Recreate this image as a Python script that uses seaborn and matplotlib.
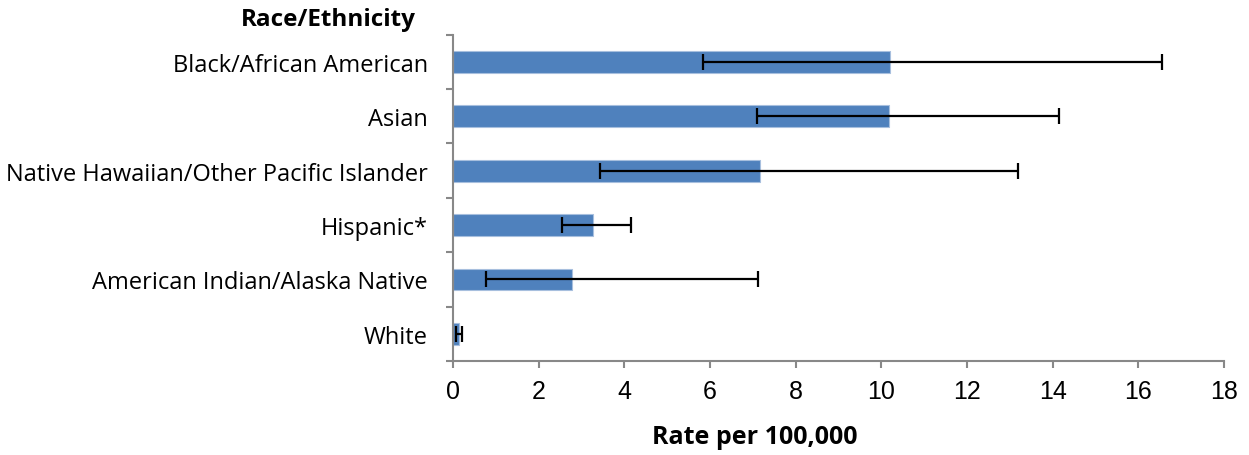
import matplotlib
matplotlib.use("Agg")
import matplotlib.pyplot as plt
from matplotlib.ticker import FixedLocator
import seaborn as sns
import pandas as pd
import numpy as np

# Rates per 100,000 with 95% confidence limits
groups = ["Black/African American", "Asian", "Native Hawaiian/Other Pacific Islander",
          "Hispanic*", "American Indian/Alaska Native", "White"]
rates = [10.2, 10.18, 7.17, 3.27, 2.78, 0.14]
ci_low = [5.83, 7.09, 3.44, 2.54, 0.76, 0.08]
ci_high = [16.55, 14.15, 13.19, 4.16, 7.13, 0.22]
x_ticks = [0, 2, 4, 6, 8, 10, 12, 14, 16, 18]

df = pd.DataFrame({"group": groups, "rate": rates})

sns.set_theme(style="white")
plt.rcParams["font.family"] = ["Open Sans", "DejaVu Sans"]
plt.rcParams["text.color"] = "black"
plt.rcParams["xtick.color"] = "black"
plt.rcParams["ytick.color"] = "black"

fig = plt.figure(figsize=(12.49, 4.56), dpi=100)
ax = fig.add_axes([0.3627, 0.2061, 0.6173, 0.7156])

bar_color = "#4F81BD"
sns.barplot(data=df, x="rate", y="group", orient="h", color=bar_color,
            width=0.4, edgecolor="#A7BFDE", linewidth=0.8, saturation=1,
            ax=ax, errorbar=None)

ypos = np.arange(len(groups))
xerr = np.array([np.array(rates) - np.array(ci_low), np.array(ci_high) - np.array(rates)])
ax.errorbar(rates, ypos, xerr=xerr, fmt="none", ecolor="black",
            elinewidth=1.6, capsize=6, capthick=1.6, zorder=5)

ax.set_xlim(0, 18)
ax.set_ylim(len(groups) - 0.5, -0.5)
ax.set_xticks(x_ticks)
ax.set_xticklabels([str(t) for t in x_ticks])

# category labels at bar centres, tick marks between categories
ax.set_yticks(ypos)
ax.set_yticklabels(groups)
ax.yaxis.set_minor_locator(FixedLocator(np.arange(-0.5, len(groups), 1.0)))
ax.tick_params(axis="y", which="major", length=0, pad=18, labelcolor="black")
ax.tick_params(axis="y", which="minor", left=True, length=5, width=1.5, color="#888888")
ax.tick_params(axis="x", which="major", bottom=True, length=5, width=1.5,
               color="#888888", pad=8, labelcolor="black")

for lbl in ax.get_xticklabels():
    lbl.set_fontfamily(["Liberation Sans", "DejaVu Sans"])
    lbl.set_fontsize(18)
    lbl.set_color("black")
for lbl in ax.get_yticklabels():
    lbl.set_fontsize(17)
    lbl.set_color("black")

for side in ["top", "right"]:
    ax.spines[side].set_visible(False)
for side in ["left", "bottom"]:
    ax.spines[side].set_color("#888888")
    ax.spines[side].set_linewidth(1.5)

ax.set_ylabel("")
ax.set_xlabel("")
fig.text(0.604, 1 - 438 / 456, "Rate per 100,000", ha="center", va="center",
         fontsize=18, fontweight="bold", color="black")
fig.text(0.333, 1 - 20 / 456, "Race/Ethnicity", ha="right", va="center",
         fontsize=17.5, fontweight="bold", color="black")

fig.savefig("out.png", dpi=100)
